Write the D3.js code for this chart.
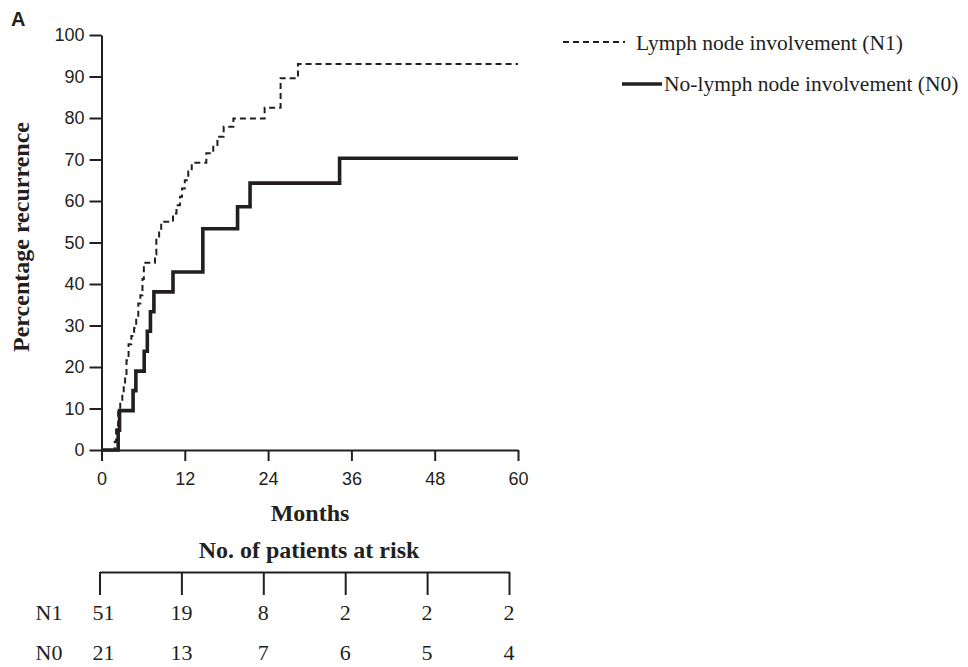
<!DOCTYPE html>
<html>
<head>
<meta charset="utf-8">
<script src="https://cdn.jsdelivr.net/npm/d3@7"></script>
<style>
  html, body { margin: 0; padding: 0; background: #fff; }
  svg { display: block; }
  .sans { font-family: "Liberation Sans", Arial, sans-serif; }
  .serif { font-family: "Liberation Serif", "Times New Roman", serif; }
</style>
</head>
<body>
<svg id="chart" width="968" height="667"></svg>
<script>
// Kaplan–Meier cumulative recurrence, step points (month, % recurrence)
const n1Months = [0, 1.9, 2.1, 2.4, 2.7, 3.0, 3.2, 3.4, 3.6, 3.9, 4.3, 4.7, 5.0, 5.3, 5.6, 5.9, 6.1,
                  7.7, 7.9, 8.3, 8.6, 10.3, 10.8, 11.3, 11.6, 12.0, 12.5, 13.0, 15.1, 16.1, 16.7,
                  17.6, 19.0, 23.5, 25.8, 28.3, 60];
const n1Pct    = [0, 2.0, 5.9, 9.8, 11.8, 13.7, 15.7, 17.6, 21.6, 25.5, 27.5, 29.4, 31.4, 35.3, 37.3, 41.2, 45.1,
                  47.1, 51.0, 53.0, 55.0, 57.0, 59.0, 61.0, 63.0, 65.0, 67.1, 69.2, 71.5, 73.5, 75.5,
                  77.9, 79.9, 82.5, 89.6, 93.0, 93.0];

const n0Months = [0, 2.4, 2.6, 4.55, 4.95, 6.15, 6.6, 7.05, 7.55, 10.3, 14.6, 19.6, 21.4, 34.3, 60];
const n0Pct    = [0, 4.8, 9.5, 14.3, 19.0, 23.8, 28.6, 33.3, 38.1, 42.9, 53.3, 58.6, 64.3, 70.3, 70.3];

const xTicks = [0, 12, 24, 36, 48, 60];
const yTicks = [0, 10, 20, 30, 40, 50, 60, 70, 80, 90, 100];

// Number at risk table
const riskMonths = [0, 12, 24, 36, 48, 60];
const riskGroups = ["N1", "N0"];
const n1AtRisk = [51, 19, 8, 2, 2, 2];
const n0AtRisk = [21, 13, 7, 6, 5, 4];

const seriesNames = ["Lymph node involvement (N1)", "No-lymph node involvement (N0)"];

const svg = d3.select("#chart");
const ink = "#231f20";

const x = d3.scaleLinear().domain([0, 60]).range([101.5, 518]);
const y = d3.scaleLinear().domain([0, 100]).range([450, 35]);

// Panel letter
svg.append("text").attr("class", "sans")
  .attr("x", 11).attr("y", 26)
  .attr("font-size", 20).attr("font-weight", "bold").attr("fill", ink)
  .text("A");

// Y axis
const yAxis = svg.append("g").attr("transform", `translate(${x(0)},0)`)
  .call(d3.axisLeft(y).tickValues(yTicks).tickSize(12).tickSizeOuter(0).tickPadding(5));
yAxis.select(".domain").attr("stroke", ink).attr("stroke-width", 2);
yAxis.selectAll(".tick line").attr("stroke", ink).attr("stroke-width", 2);
yAxis.selectAll(".tick text").attr("class", "sans").attr("font-size", 18).attr("fill", ink);

// X axis
const xAxis = svg.append("g").attr("transform", `translate(0,${y(0)})`)
  .call(d3.axisBottom(x).tickValues(xTicks).tickSize(11).tickSizeOuter(0).tickPadding(11));
xAxis.select(".domain").attr("stroke", ink).attr("stroke-width", 2);
xAxis.selectAll(".tick line").attr("stroke", ink).attr("stroke-width", 2);
xAxis.selectAll(".tick text").attr("class", "sans").attr("font-size", 18).attr("fill", ink);

// Axis titles
svg.append("text").attr("class", "serif")
  .attr("transform", "translate(29,237) rotate(-90)")
  .attr("text-anchor", "middle").attr("font-size", 24).attr("font-weight", "bold").attr("fill", ink)
  .text("Percentage recurrence");

svg.append("text").attr("class", "serif")
  .attr("x", 310).attr("y", 521)
  .attr("text-anchor", "middle").attr("font-size", 24).attr("font-weight", "bold").attr("fill", ink)
  .text("Months");

// Curves
const line = d3.line().curve(d3.curveStepAfter).x(d => x(d[0])).y(d => y(d[1]));
const n1Data = d3.zip(n1Months, n1Pct);
const n0Data = d3.zip(n0Months, n0Pct);

svg.append("path").datum(n0Data)
  .attr("d", line).attr("fill", "none")
  .attr("stroke", ink).attr("stroke-width", 3.6).attr("stroke-linejoin", "miter");

svg.append("path").datum(n1Data)
  .attr("d", line).attr("fill", "none")
  .attr("stroke", ink).attr("stroke-width", 2).attr("stroke-dasharray", "6,4");

// Legend
const legend = svg.append("g");
legend.append("line").attr("x1", 563).attr("x2", 625).attr("y1", 42).attr("y2", 42)
  .attr("stroke", ink).attr("stroke-width", 2).attr("stroke-dasharray", "6,4");
legend.append("text").attr("class", "serif")
  .attr("x", 636).attr("y", 50).attr("font-size", 21.5).attr("fill", ink)
  .text(seriesNames[0]);
legend.append("line").attr("x1", 622).attr("x2", 662).attr("y1", 84).attr("y2", 84)
  .attr("stroke", ink).attr("stroke-width", 3.6);
legend.append("text").attr("class", "serif")
  .attr("x", 664).attr("y", 91).attr("font-size", 21.5).attr("fill", ink)
  .text(seriesNames[1]);

// Number at risk
svg.append("text").attr("class", "serif")
  .attr("x", 309).attr("y", 558)
  .attr("text-anchor", "middle").attr("font-size", 24).attr("font-weight", "bold").attr("fill", ink)
  .text("No. of patients at risk");

const xr = d3.scaleLinear().domain([0, 60]).range([99.5, 509]);
const riskAxis = svg.append("g").attr("transform", "translate(0,572)")
  .call(d3.axisBottom(xr).tickValues(riskMonths).tickSize(23).tickSizeOuter(0).tickFormat(""));
riskAxis.select(".domain").attr("stroke", ink).attr("stroke-width", 2);
riskAxis.selectAll(".tick line").attr("stroke", ink).attr("stroke-width", 2);

const riskRows = [n1AtRisk, n0AtRisk];
const rowY = d3.scalePoint().domain(riskGroups).range([620, 660]);

riskGroups.forEach((g, i) => {
  svg.append("text").attr("class", "serif")
    .attr("x", 49).attr("y", rowY(g)).attr("text-anchor", "middle")
    .attr("font-size", 22).attr("fill", ink).text(g);
  svg.append("g").selectAll("text").data(riskRows[i]).join("text")
    .attr("class", "serif")
    .attr("x", (d, j) => xr(riskMonths[j]) + (j === 0 ? 4 : 0))
    .attr("y", rowY(g)).attr("text-anchor", "middle")
    .attr("font-size", 22).attr("fill", ink)
    .text(d => d);
});
</script>
</body>
</html>
